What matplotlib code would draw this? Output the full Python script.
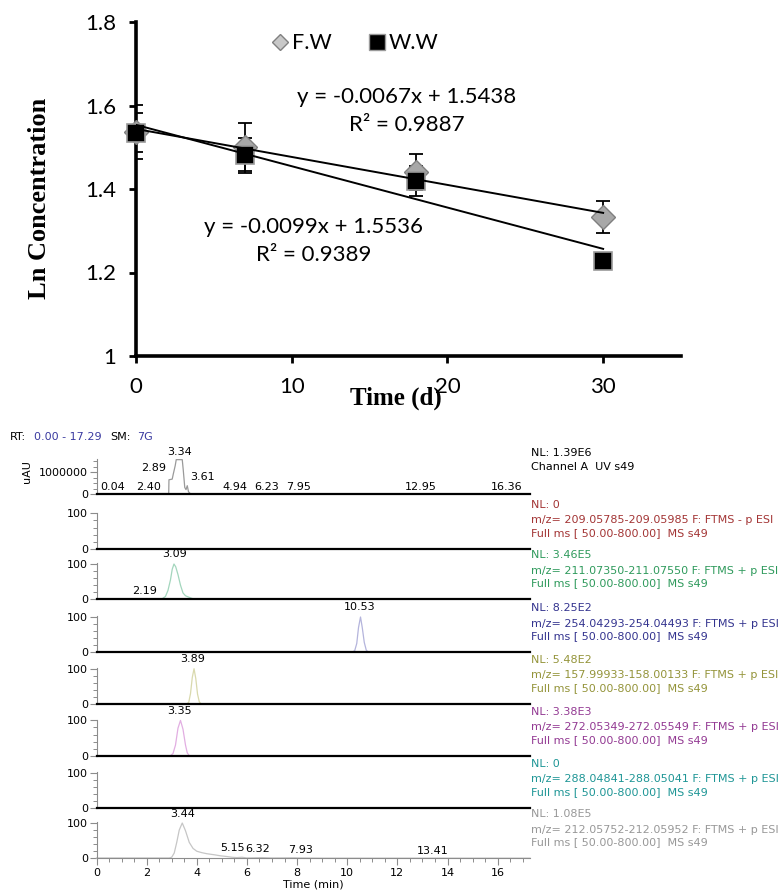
import numpy as np
import matplotlib
matplotlib.use("Agg")
import matplotlib.pyplot as plt
from matplotlib.ticker import MultipleLocator, FixedLocator
from matplotlib.lines import Line2D

W, H = 783, 893
plt.rcParams["font.family"] = ["Lato", "DejaVu Sans"]

# ---------------- top chart data ----------------
days = [0, 7, 18, 30]
fw_ln = [1.537, 1.501, 1.441, 1.333]
fw_err = [0.064, 0.058, 0.044, 0.038]
ww_ln = [1.535, 1.481, 1.419, 1.227]
ww_err = [0.046, 0.042, 0.036, 0.008]
fw_slope, fw_icpt, fw_r2 = -0.0067, 1.5438, 0.9887
ww_slope, ww_icpt, ww_r2 = -0.0099, 1.5536, 0.9389

# ---------------- chromatogram data ----------------
uv_t = [0, 2.88, 2.89, 3.02, 3.06, 3.14, 3.18, 3.42, 3.46, 3.52, 3.57, 3.62, 3.67, 3.75, 17.29]
uv_y = [0.01e6, 0.02e6, 0.65e6, 0.68e6, 0.9e6, 1.3e6, 1.57e6, 1.57e6, 1.1e6, 0.3e6,
        0.2e6, 0.38e6, 0.1e6, 0.01e6, 0.01e6]
green_t = [0, 1.9, 2.0, 2.1, 2.6, 2.75, 2.85, 2.95, 3.02, 3.09, 3.16, 3.25, 3.35, 3.45,
           3.55, 3.65, 3.75, 3.85, 4.0, 17.29]
green_y = [0.5, 0.5, 2, 0.5, 0.5, 8, 25, 55, 85, 100, 92, 70, 40, 18, 10, 7, 4, 1.5, 0.5, 0.5]
blue_t = [0, 10.2, 10.3, 10.38, 10.45, 10.53, 10.6, 10.68, 10.76, 10.85, 17.29]
blue_y = [0, 0, 5, 25, 70, 100, 70, 28, 6, 0, 0]
olive_t = [0, 3.6, 3.68, 3.75, 3.82, 3.89, 3.96, 4.03, 4.1, 4.18, 17.29]
olive_y = [0, 0, 5, 30, 75, 100, 72, 28, 6, 0, 0]
purple_t = [0, 2.95, 3.05, 3.15, 3.25, 3.35, 3.45, 3.55, 3.62, 3.7, 17.29]
purple_y = [0, 0, 6, 30, 78, 100, 75, 30, 8, 0, 0]
grey_t = [0, 2.9, 3.0, 3.1, 3.2, 3.3, 3.42, 3.55, 3.7, 3.85, 4.0, 4.2, 4.4, 4.7, 4.95,
          5.2, 5.4, 5.6, 5.8, 6.0, 6.3, 6.6, 7.0, 7.9, 8.1, 9.0, 13.4, 17.29]
grey_y = [1, 1, 3, 15, 45, 80, 100, 78, 45, 28, 20, 16, 13, 10, 7, 5, 3, 2, 3, 1, 1.5, 2,
          1, 1.5, 1, 0.5, 0.5, 0.5]

nl_labels = ["NL: 1.39E6", "NL: 0", "NL: 3.46E5", "NL: 8.25E2", "NL: 5.48E2",
             "NL: 3.38E3", "NL: 0", "NL: 1.08E5"]
filter_labels = ["Channel A  UV s49",
                 "m/z= 209.05785-209.05985 F: FTMS - p ESI",
                 "m/z= 211.07350-211.07550 F: FTMS + p ESI",
                 "m/z= 254.04293-254.04493 F: FTMS + p ESI",
                 "m/z= 157.99933-158.00133 F: FTMS + p ESI",
                 "m/z= 272.05349-272.05549 F: FTMS + p ESI",
                 "m/z= 288.04841-288.05041 F: FTMS + p ESI",
                 "m/z= 212.05752-212.05952 F: FTMS + p ESI"]
scan_label = "Full ms [ 50.00-800.00]  MS s49"
traces = [(uv_t, uv_y), None, (green_t, green_y), (blue_t, blue_y), (olive_t, olive_y),
          (purple_t, purple_y), None, (grey_t, grey_y)]
peak_labels = [["3.34", "2.89", "3.61", "0.04", "2.40", "4.94", "6.23", "7.95", "12.95", "16.36"],
               [], ["3.09", "2.19"], ["10.53"], ["3.89"], ["3.35"], [],
               ["3.44", "5.15", "6.32", "7.93", "13.41"]]

# label anchor placement (bottom centre), data coords
label_pos = [[(3.32, 1.69e6), (2.26, 0.96e6), (4.21, 0.53e6), (0.64, 0.07e6), (2.09, 0.07e6),
              (5.53, 0.07e6), (6.80, 0.07e6), (8.04, 0.07e6), (12.93, 0.07e6), (16.36, 0.07e6)],
             [], [(3.10, 113), (1.93, 10)], [(10.50, 113)], [(3.85, 113)], [(3.31, 113)], [],
             [(3.42, 111), (5.42, 14), (6.44, 12), (8.12, 8), (13.39, 7)]]

text_colors = ["black", "#a33535", "#2f9a5c", "#34348f", "#94943a", "#933a93", "#1f9696", "#989898"]
trace_colors = ["#9a9a9a", "#d8a0a0", "#a3d6bd", "#b4b4dc", "#d9d9ad", "#e2aee2", "#a0d8d8", "#c6c6c6"]
baselines = [494, 548.7, 599.3, 652.3, 704, 755.7, 808, 858.3]

fig = plt.figure(figsize=(W / 100, H / 100), dpi=100)


def px_axes(x0, y0, x1, y1):
    return fig.add_axes([x0 / W, 1 - y1 / H, (x1 - x0) / W, (y1 - y0) / H])


# ================= top: Ln concentration vs time =================
sans = "Lato"
ax = px_axes(136, 22, 681, 356)
ax.errorbar(days, fw_ln, yerr=fw_err, fmt="none", ecolor="black", elinewidth=1.3,
            capsize=5, capthick=1.3, zorder=2)
ax.errorbar(days, ww_ln, yerr=ww_err, fmt="none", ecolor="black", elinewidth=1.3,
            capsize=5, capthick=1.3, zorder=2)
ax.plot(days, fw_ln, linestyle="none", marker="D", markersize=12, markerfacecolor="#a8a8a8",
        markeredgecolor="#7f7f7f", markeredgewidth=1.0, zorder=3, clip_on=False)
ax.plot(days, ww_ln, linestyle="none", marker="s", markersize=12.5, markerfacecolor="black",
        markeredgecolor="#9a9a9a", markeredgewidth=1.2, zorder=4, clip_on=False)
xfit = np.array([days[0], days[-1]])
ax.plot(xfit, fw_slope * xfit + fw_icpt, color="black", lw=1.4, zorder=5)
ax.plot(xfit, ww_slope * xfit + ww_icpt, color="black", lw=1.4, zorder=5)

ax.set_xlim(0, 35)
ax.set_ylim(1.0, 1.8)
ax.set_xticks([0, 10, 20, 30])
ax.set_xticklabels(["0", "10", "20", "30"], fontfamily=sans)
ax.set_yticks([1.0, 1.2, 1.4, 1.6, 1.8])
ax.set_yticklabels(["1", "1.2", "1.4", "1.6", "1.8"], fontfamily=sans)
for s in ("top", "right"):
    ax.spines[s].set_visible(False)
for s in ("left", "bottom"):
    ax.spines[s].set_linewidth(2.6)
ax.tick_params(direction="out", length=5, width=2, labelsize=16)
ax.tick_params(axis="x", pad=10)
ax.tick_params(axis="y", pad=9)

eq_fs = 16
ax.text((407 - 136) / 545, (356 - 97) / 334, f"y = {fw_slope}x + {fw_icpt}", transform=ax.transAxes,
        ha="center", va="center", fontsize=eq_fs, family=sans)
ax.text((407 - 136) / 545, (356 - 125) / 334, f"R² = {fw_r2}", transform=ax.transAxes,
        ha="center", va="center", fontsize=eq_fs, family=sans)
ax.text((314 - 136) / 545, (356 - 227) / 334, f"y = {ww_slope}x + {ww_icpt}", transform=ax.transAxes,
        ha="center", va="center", fontsize=eq_fs, family=sans)
ax.text((314 - 136) / 545, (356 - 255) / 334, f"R² = {ww_r2}", transform=ax.transAxes,
        ha="center", va="center", fontsize=eq_fs, family=sans)

handles = [Line2D([], [], linestyle="none", marker="D", markersize=8, markerfacecolor="#c8c8c8",
                  markeredgecolor="#808080", markeredgewidth=1.0),
           Line2D([], [], linestyle="none", marker="s", markersize=11, markerfacecolor="black",
                  markeredgecolor="#9a9a9a", markeredgewidth=1.0)]
ax.legend(handles, ["F.W", "W.W"], ncol=2, loc="center", bbox_to_anchor=(0.402, 0.937),
          frameon=False, prop={"family": sans, "size": 15.5}, handletextpad=0.15,
          columnspacing=1.7, handlelength=0.8, borderpad=0)

fig.text(40 / W, 1 - 198 / H, "Ln Concentration", rotation=90, ha="center", va="center",
         fontsize=19, fontweight="bold", family="Liberation Serif")
fig.text(396 / W, 1 - 398 / H, "Time (d)", ha="center", va="center",
         fontsize=18, fontweight="bold", family="Liberation Serif")

# ================= bottom: chromatograms =================
cfont = "DejaVu Sans"
fs = 8
fig.text(10 / W, 1 - 437 / H, "RT:", fontsize=fs, family=cfont, va="center")
fig.text(34 / W, 1 - 437 / H, "0.00 - 17.29", fontsize=fs, family=cfont, va="center", color="#3a3aa0")
fig.text(110 / W, 1 - 437 / H, "SM:", fontsize=fs, family=cfont, va="center")
fig.text(137 / W, 1 - 437 / H, "7G", fontsize=fs, family=cfont, va="center", color="#3a3aa0")

x_left, x_right = 96.5, 530
for i, base in enumerate(baselines):
    height = 35 if i == 0 else 36
    cax = px_axes(x_left, base - height, x_right, base)
    cax.set_xlim(0, 17.29)
    if i == 0:
        cax.set_ylim(0, 1.6e6)
        cax.yaxis.set_major_locator(FixedLocator([0, 1e6]))
        cax.set_yticklabels(["0", "1000000"], fontfamily=cfont)
        cax.yaxis.set_minor_locator(MultipleLocator(2.5e5))
    else:
        cax.set_ylim(0, 102)
        cax.yaxis.set_major_locator(FixedLocator([0, 100]))
        cax.set_yticklabels(["0", "100"], fontfamily=cfont)
        cax.yaxis.set_minor_locator(MultipleLocator(20))
    if traces[i] is not None:
        t, y = traces[i]
        cax.plot(t, y, color=trace_colors[i], lw=0.9, clip_on=False)
    for txt, (lx, ly) in zip(peak_labels[i], label_pos[i]):
        cax.text(lx, ly, txt, ha="center", va="bottom", fontsize=fs, family=cfont, clip_on=False)

    for s in ("top", "right"):
        cax.spines[s].set_visible(False)
    cax.spines["left"].set_color("#8c8c8c")
    cax.spines["left"].set_linewidth(0.8)
    cax.tick_params(axis="y", which="major", length=5, width=0.8, color="#8c8c8c",
                    labelsize=fs, pad=1)
    cax.tick_params(axis="y", which="minor", length=3, width=0.7, color="#8c8c8c")

    if i < len(baselines) - 1:
        cax.spines["bottom"].set_linewidth(1.6)
        cax.spines["bottom"].set_color("black")
        cax.set_xticks([])
    else:
        cax.spines["bottom"].set_linewidth(0.8)
        cax.spines["bottom"].set_color("#8c8c8c")
        cax.set_xticks(np.arange(0, 17, 2))
        cax.set_xticklabels([str(v) for v in range(0, 17, 2)], fontfamily=cfont)
        cax.xaxis.set_minor_locator(MultipleLocator(0.5))
        cax.tick_params(axis="x", which="major", length=5, width=0.8, color="#8c8c8c",
                        labelsize=fs, pad=2)
        cax.tick_params(axis="x", which="minor", length=3, width=0.7, color="#8c8c8c")
        cax.set_xlabel("Time (min)", fontsize=fs, family=cfont, labelpad=1)

    # right hand annotations
    tx = (x_right + 1) / W
    col = text_colors[i]
    if i == 0:
        fig.text(tx, 1 - (base - 41) / H, nl_labels[i], fontsize=fs, family=cfont, va="center", color=col)
        fig.text(tx, 1 - (base - 27) / H, filter_labels[i], fontsize=fs, family=cfont, va="center", color=col)
    else:
        fig.text(tx, 1 - (base - 44) / H, nl_labels[i], fontsize=fs, family=cfont, va="center", color=col)
        fig.text(tx, 1 - (base - 28.5) / H, filter_labels[i], fontsize=fs, family=cfont, va="center", color=col)
        fig.text(tx, 1 - (base - 16) / H, scan_label, fontsize=fs, family=cfont, va="center", color=col)

fig.text(27 / W, 1 - 472 / H, "uAU", rotation=90, fontsize=fs, family=cfont, ha="center", va="center")

fig.savefig("out.png", dpi=100)
